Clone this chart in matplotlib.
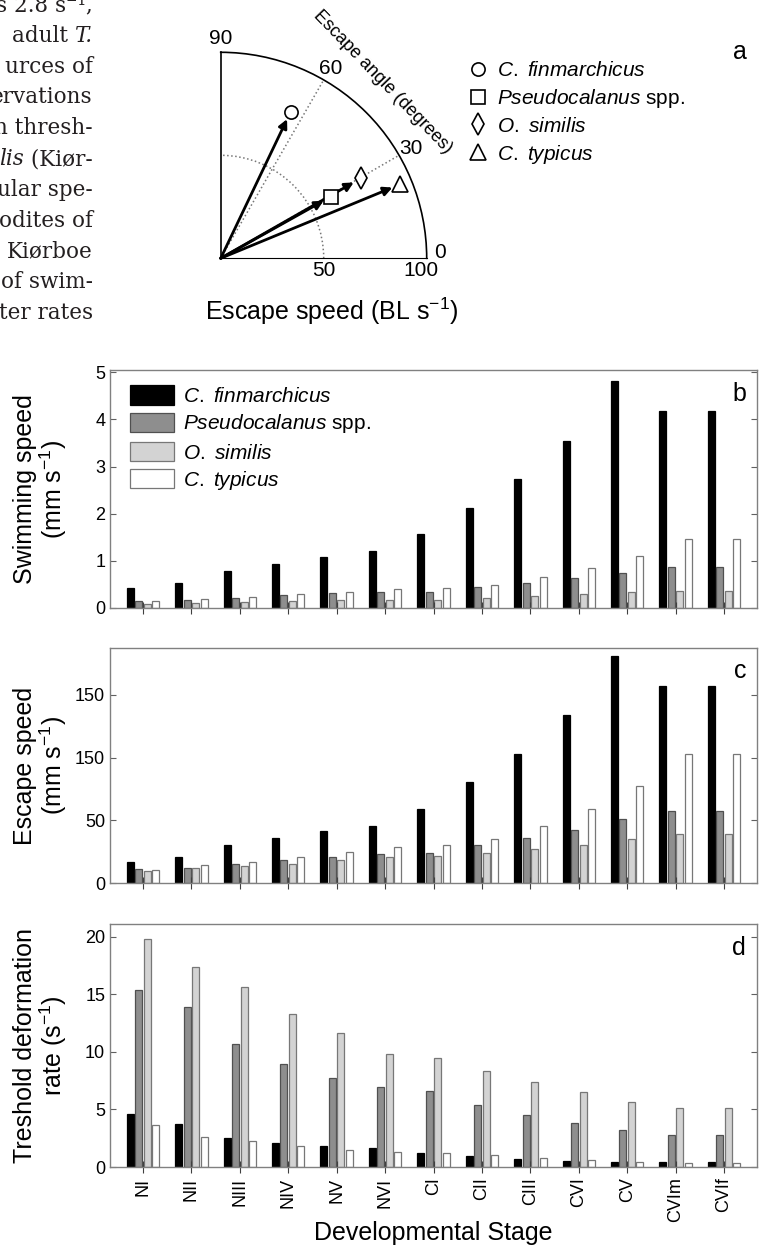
import matplotlib.pyplot as plt
from matplotlib.patches import Patch
from matplotlib.lines import Line2D
import numpy as np

plt.rcParams['font.family'] = ['Liberation Sans', 'DejaVu Sans']
plt.rcParams['mathtext.fontset'] = 'custom'
plt.rcParams['mathtext.rm'] = 'Liberation Sans'
plt.rcParams['mathtext.it'] = 'Liberation Sans:italic'
plt.rcParams['mathtext.bf'] = 'Liberation Sans:bold'

stages = ['NI', 'NII', 'NIII', 'NIV', 'NV', 'NVI', 'CI', 'CII', 'CIII', 'CVI', 'CV', 'CVIm', 'CVIf']
species = [r'$\mathit{C.\ finmarchicus}$', r'$\mathit{Pseudocalanus}$ spp.',
           r'$\mathit{O.\ similis}$', r'$\mathit{C.\ typicus}$']

# panel a: escape angle (deg) and escape speed (BL s-1), adults
esc_angle = [64.5, 29.2, 29.7, 22.4]
esc_speed_bl = [78.9, 61.3, 78.4, 94.2]

# panel b: swimming speed (mm s-1)
swim_cfin = [0.43, 0.53, 0.78, 0.94, 1.08, 1.20, 1.56, 2.13, 2.73, 3.55, 4.81, 4.17, 4.17]
swim_pseudo = [0.15, 0.17, 0.22, 0.27, 0.31, 0.34, 0.35, 0.44, 0.53, 0.63, 0.75, 0.87, 0.87]
swim_osim = [0.09, 0.11, 0.13, 0.15, 0.17, 0.18, 0.18, 0.22, 0.25, 0.29, 0.33, 0.36, 0.36]
swim_ctyp = [0.14, 0.19, 0.24, 0.29, 0.34, 0.40, 0.43, 0.49, 0.65, 0.84, 1.10, 1.47, 1.47]

# panel c: escape speed (mm s-1)
esc_cfin = [16.7, 20.5, 30.1, 36.2, 41.5, 45.8, 59.3, 80.5, 103.2, 134.3, 180.8, 157.1, 157.1]
esc_pseudo = [10.9, 12.0, 15.2, 18.1, 21.0, 23.4, 24.2, 30.1, 35.9, 42.3, 50.8, 57.4, 57.4]
esc_osim = [9.6, 12.0, 13.3, 15.4, 18.1, 20.7, 21.3, 24.2, 27.1, 30.6, 35.1, 38.8, 38.8]
esc_ctyp = [10.6, 14.1, 16.8, 20.5, 24.7, 28.7, 30.1, 35.1, 45.5, 59.3, 77.4, 102.6, 102.6]
esc_ticks = [0, 50, 100, 150]
esc_ticklabels = ['0', '50', '150', '150']

# panel d: threshold deformation rate (s-1)
thr_cfin = [4.56, 3.70, 2.49, 2.07, 1.80, 1.63, 1.24, 0.92, 0.71, 0.50, 0.41, 0.44, 0.44]
thr_pseudo = [15.4, 13.9, 10.7, 8.96, 7.72, 6.95, 6.63, 5.38, 4.50, 3.82, 3.17, 2.78, 2.78]
thr_osim = [19.8, 17.4, 15.6, 13.3, 11.6, 9.85, 9.50, 8.31, 7.40, 6.51, 5.65, 5.09, 5.09]
thr_ctyp = [3.61, 2.63, 2.22, 1.80, 1.45, 1.30, 1.18, 1.04, 0.80, 0.62, 0.47, 0.32, 0.32]

# cut-off body text at the left of the page
para_lines = ['s 2.8 s\u207b\u00b9,', ('adult ', 'T.'), 'urces of', 'ervations', 'n thresh-',
              ('lis', ' (Ki\u00f8r-'), 'ular spe-', 'odites of', 'Ki\u00f8rboe', 'of swim-', 'ter rates']

fills = ['#000000', '#8e8e8e', '#d3d3d3', '#ffffff']
edges = ['#000000', '#505050', '#777777', '#777777']
markers = ['o', 's', 'd', '^']

fig = plt.figure(figsize=(7.6, 12.49), dpi=100)

# background axes in pixel units for loose text
bg = fig.add_axes([0, 0, 1, 1], zorder=-1)
bg.set_xlim(0, 760)
bg.set_ylim(1249, 0)
bg.set_axis_off()

serif = dict(family='DejaVu Serif', fontsize=15.5, color='#231f20')
for i, line in enumerate(para_lines):
    y = 5 + i * 30.8
    if isinstance(line, tuple):
        left, right = line
        if left == 'lis':
            t = bg.text(93, y, right, ha='right', va='center', **serif)
            bg.annotate(left, xy=(0, 0), xycoords=t, ha='right', va='bottom', style='italic', **serif)
        else:
            t = bg.text(93, y, right, ha='right', va='center', style='italic', **serif)
            bg.annotate(left, xy=(0, 0), xycoords=t, ha='right', va='bottom', **serif)
    else:
        bg.text(93, y, line, ha='right', va='center', **serif)

# ---- panel a (polar quarter)
pa = fig.add_axes([220.7 / 760, 1 - 258.3 / 1249, 206 / 760, 206 / 1249], projection='polar')
pa.set_thetamin(0)
pa.set_thetamax(90)
pa.set_rlim(0, 100)
pa.set_rticks([50])
pa.set_yticklabels([])
pa.set_xticks(np.radians([30, 60]))
pa.set_xticklabels([])
pa.grid(True, ls=':', color='#777777', lw=1.1)
pa.tick_params(length=0)
pa.spines['polar'].set_color('k')
pa.spines['polar'].set_linewidth(1.2)
pa.spines['end'].set_color('k')
pa.spines['end'].set_linewidth(1.2)
pa.spines['start'].set_visible(False)

for ang, lab_ang in zip([0, 30, 60, 90], [1.5, 30, 60, 90]):
    pa.text(np.radians(lab_ang), 106.5, str(ang), ha='center', va='center', fontsize=15, clip_on=False)
for r, dx in zip([50, 100], [0, -4]):
    pa.annotate(str(r), xy=(0, r), xytext=(dx, -2), textcoords='offset points',
                ha='center', va='top', fontsize=15, annotation_clip=False)

for ang, spd, m in zip(esc_angle, esc_speed_bl, markers):
    th = np.radians(ang)
    pa.annotate('', xy=(th, spd), xytext=(0, 0),
                arrowprops=dict(arrowstyle='-|>', color='k', lw=2, shrinkA=0, shrinkB=6,
                                mutation_scale=13), annotation_clip=False)
    pa.plot([th], [spd], marker=m, ms=11 if m in 'd^' else 9.5, mfc='white', mec='k', mew=1.2,
            ls='none', clip_on=False, zorder=5)

fig.text(383 / 760, 1 - 82 / 1249, 'Escape angle (degrees)', rotation=-46, ha='center', va='center',
         fontsize=13, rotation_mode='anchor')
fig.text(332 / 760, 1 - 311 / 1249, r'Escape speed (BL s$^{-1}$)', ha='center', va='center', fontsize=18)

handles_a = [Line2D([], [], marker=m, ms=11 if m in 'd^' else 9.5, mfc='white', mec='k', mew=1.2, ls='none')
             for m in markers]
fig.legend(handles_a, species, loc='upper left', bbox_to_anchor=(468 / 760, 1 - 61 / 1249), frameon=False,
           fontsize=15, handlelength=1.0, handletextpad=0.4, labelspacing=0.33, borderpad=0, borderaxespad=0)
fig.text(740 / 760, 1 - 52 / 1249, 'a', ha='center', va='center', fontsize=18)

# ---- bar panels
x = np.arange(len(stages))
offsets = (np.arange(4) - 1.5) * 0.175
width = 0.145

panels = [
    ([swim_cfin, swim_pseudo, swim_osim, swim_ctyp], [370, 608], 5.05, 'Swimming speed\n(mm s$^{-1}$)', 'b'),
    ([esc_cfin, esc_pseudo, esc_osim, esc_ctyp], [648, 883], 187.4, 'Escape speed\n(mm s$^{-1}$)', 'c'),
    ([thr_cfin, thr_pseudo, thr_osim, thr_ctyp], [924, 1167], 21.1, 'Treshold deformation\nrate (s$^{-1}$)', 'd'),
]

axes = []
for series, (top, bot), ymax, ylab, letter in panels:
    ax = fig.add_axes([110 / 760, 1 - bot / 1249, 647 / 760, (bot - top) / 1249])
    for k in range(4):
        ax.bar(x + offsets[k], series[k], width=width, color=fills[k], edgecolor=edges[k], linewidth=0.9,
               label=species[k])
    ax.set_xlim(-0.68, 12.68)
    ax.set_ylim(0, ymax)
    ax.set_xticks(x)
    for s in ax.spines.values():
        s.set_color('#808080')
        s.set_linewidth(1.0)
    ax.tick_params(axis='y', direction='in', left=True, right=True, length=4, color='#606060', labelsize=13)
    ax.tick_params(axis='x', direction='inout', length=8, color='#404040', labelsize=13)
    ax.text(0.983, 0.9, letter, transform=ax.transAxes, ha='right', va='center', fontsize=18)
    fig.text(41 / 760, 1 - (top + bot) / 2 / 1249, ylab, rotation=90, ha='center', va='center',
             fontsize=18, linespacing=1.05, multialignment='center')
    axes.append(ax)

axb, axc, axd = axes
axb.set_yticks([0, 1, 2, 3, 4, 5])
axb.set_xticklabels([])
axc.set_yticks(esc_ticks)
axc.set_yticklabels(esc_ticklabels)
axc.set_xticklabels([])
axd.set_yticks([0, 5, 10, 15, 20])
axd.set_xticklabels(stages, rotation=90)

axb.legend(loc='upper left', bbox_to_anchor=(0.031, 0.935), frameon=False, fontsize=15,
           handlelength=2.1, handleheight=1.05, handletextpad=0.45, labelspacing=0.3,
           borderpad=0, borderaxespad=0)

fig.text(433.5 / 760, 1 - 1233 / 1249, 'Developmental Stage', ha='center', va='center', fontsize=18)

plt.savefig('out.png', dpi=100)
